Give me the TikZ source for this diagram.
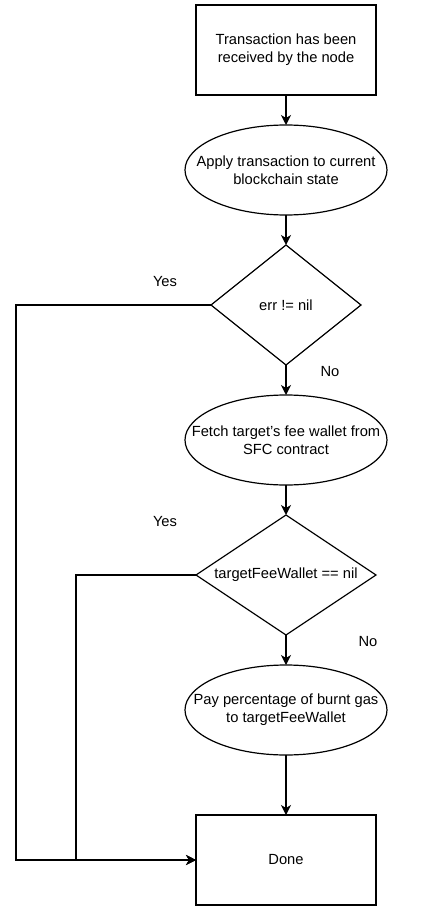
\documentclass[tikz,border=0pt]{standalone}
\usepackage{fontspec}
\setmainfont{Liberation Sans}
\usetikzlibrary{shapes.geometric, arrows.meta, positioning}

\begin{document}
\begin{tikzpicture}[x=1pt, y=-1pt, >={Stealth[length=10pt, width=10pt, inset=3pt]}, line width=1.2pt,
    font=\fontsize{14.7}{18.3}\selectfont,
    box/.style={draw, rectangle, minimum width=180pt, minimum height=90pt, inner sep=0pt, outer sep=0pt, align=center},
    oval/.style={draw, ellipse, minimum width=202pt, minimum height=90pt, inner xsep=-30pt, inner ysep=0pt, outer sep=0pt, align=center},
    decision/.style={draw, diamond, minimum height=120pt, inner sep=0pt, outer sep=0pt, align=center}]
    \useasboundingbox (0,0) rectangle (420,912);

    \node[box] at (286,50) (txrecv) {Transaction has been\\received by the node};
    \node[oval, below=30pt of txrecv] (applytx) {Apply transaction to current\\blockchain state};
    \node[decision, minimum width=150pt, shape aspect=1.25, below=30pt of applytx] (errcheck) {err != nil};
    \node[oval, below=30pt of errcheck] (fetchwallet) {Fetch target's fee wallet from\\SFC contract};
    \node[decision, minimum width=180pt, shape aspect=1.5, below=30pt of fetchwallet] (walletcheck) {targetFeeWallet == nil};
    \node[oval, below=30pt of walletcheck] (paygas) {Pay percentage of burnt gas\\to targetFeeWallet};
    \node[box, below=60pt of paygas] (done) {Done};

    \node at (165,282) (erryes) {Yes};
    \node at (330,372) (errno) {No};
    \node at (165,522) (walletyes) {Yes};
    \node at (368,642) (walletno) {No};

    \draw[->] (txrecv) -- (applytx);
    \draw[->] (applytx) -- (errcheck);
    \draw[->] (errcheck) -- (fetchwallet);
    \draw[->] (fetchwallet) -- (walletcheck);
    \draw[->] (walletcheck) -- (paygas);
    \draw[->] (paygas) -- (done);
    \draw[->] (errcheck.west) -- ++(-195,0) |- (done.west);
    \draw[->] (walletcheck.west) -- ++(-120,0) |- (done.west);
\end{tikzpicture}
\end{document}
